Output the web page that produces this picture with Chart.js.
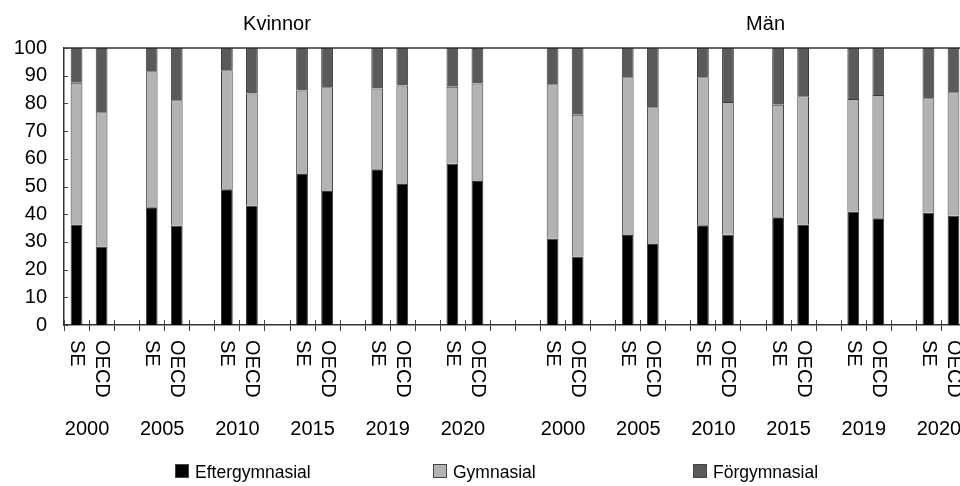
<!DOCTYPE html>
<html><head><meta charset="utf-8">
<script src="https://cdn.jsdelivr.net/npm/chart.js@4/dist/chart.umd.min.js"></script>
<style>
html,body{margin:0;padding:0;background:#fff;overflow:hidden;width:960px;height:486px}
#wrap{position:absolute;left:0;top:0;width:966px;height:486px}
</style></head>
<body><div id="wrap"><canvas id="c"></canvas></div>
<script>
const groups = ["Kvinnor", "Män"];
const years = ["2000", "2005", "2010", "2015", "2019", "2020"];
const regions = ["SE", "OECD"];
const seriesNames = ["Eftergymnasial", "Gymnasial", "Förgymnasial"];
const seriesColors = ["#000000", "#b3b3b3", "#5a5a5a"];
// order: SE2000, OECD2000, SE2005, OECD2005, ... SE2020, OECD2020
const kvinnorEfter = [36.3, 28.3, 42.5, 35.9, 49.0, 43.1, 54.5, 48.4, 56.2, 50.9, 58.2, 52.0];
const kvinnorGym   = [51.2, 48.5, 49.1, 45.2, 43.0, 40.5, 30.2, 37.4, 29.2, 35.6, 27.8, 35.2];
const kvinnorForg  = [12.5, 23.2, 8.4, 18.9, 8.0, 16.4, 15.3, 14.2, 14.6, 13.5, 14.0, 12.8];
const manEfter = [31.2, 24.7, 32.5, 29.2, 36.0, 32.6, 38.9, 36.3, 41.0, 38.5, 40.5, 39.4];
const manGym   = [55.7, 51.2, 56.9, 49.4, 53.4, 47.9, 40.6, 46.3, 40.6, 44.5, 41.4, 44.6];
const manForg  = [13.1, 24.1, 10.6, 21.4, 10.6, 19.5, 20.5, 17.4, 18.4, 17.0, 18.1, 16.0];
const yTicks = [0, 10, 20, 30, 40, 50, 60, 70, 80, 90, 100];

const groupSeries = [[kvinnorEfter, kvinnorGym, kvinnorForg], [manEfter, manGym, manForg]];

// build category slots
const labels = [];
const slotInfo = [];
const seriesData = [[], [], []];
groups.forEach((g, gi) => {
  years.forEach((y, yi) => {
    regions.forEach((r, ri) => {
      labels.push(r);
      slotInfo.push({ g: gi, y: yi, r: ri });
      for (let s = 0; s < 3; s++) seriesData[s].push(groupSeries[gi][s][yi * 2 + ri]);
    });
    const lastOfAll = gi === groups.length - 1 && yi === years.length - 1;
    if (!lastOfAll) {
      labels.push("");
      slotInfo.push(null);
      for (let s = 0; s < 3; s++) seriesData[s].push(null);
    }
  });
  if (gi < groups.length - 1) {
    labels.push("");
    slotInfo.push(null);
    for (let s = 0; s < 3; s++) seriesData[s].push(null);
  }
});

const FONT = "'Liberation Sans', Arial, sans-serif";

const decor = {
  id: 'decor',
  afterDraw(chart) {
    const ctx = chart.ctx;
    const a = chart.chartArea;
    const xs = chart.scales.x, ys = chart.scales.y;
    const step = xs.getPixelForValue(1) - xs.getPixelForValue(0);
    ctx.save();
    // top frame
    ctx.strokeStyle = '#333';
    ctx.lineWidth = 1.5;
    ctx.beginPath();
    ctx.moveTo(a.left, a.top); ctx.lineTo(a.right, a.top);
    ctx.moveTo(a.right, a.top); ctx.lineTo(a.right, a.bottom);
    ctx.stroke();
    // y inner ticks
    ctx.lineWidth = 1;
    ctx.strokeStyle = '#444';
    ctx.beginPath();
    yTicks.forEach(v => {
      const py = Math.round(ys.getPixelForValue(v)) + 0.5;
      ctx.moveTo(a.left, py); ctx.lineTo(a.left + 4, py);
    });
    // x ticks at slot boundaries
    for (let i = 0; i <= labels.length; i++) {
      const px = Math.round(xs.getPixelForValue(i) - step / 2) + 0.5;
      ctx.moveTo(px, a.bottom - 5); ctx.lineTo(px, a.bottom + 6);
    }
    ctx.stroke();
    // rotated region labels
    ctx.fillStyle = '#000';
    ctx.font = '20px ' + FONT;
    ctx.textAlign = 'left';
    ctx.textBaseline = 'middle';
    labels.forEach((lab, i) => {
      if (!lab) return;
      const px = xs.getPixelForValue(i);
      ctx.save();
      ctx.translate(px, a.bottom + 15);
      ctx.rotate(Math.PI / 2);
      ctx.fillText(lab, 0, 0);
      ctx.restore();
    });
    // year labels
    ctx.font = '20px ' + FONT;
    ctx.textAlign = 'center';
    ctx.textBaseline = 'alphabetic';
    slotInfo.forEach((info, i) => {
      if (!info || info.r !== 0) return;
      const px = (xs.getPixelForValue(i) + xs.getPixelForValue(i + 1)) / 2 - 2;
      ctx.fillText(years[info.y], px, a.bottom + 110);
    });
    // group titles
    ctx.font = '20px ' + FONT;
    const firstIdx = slotInfo.findIndex(s => s && s.g === 0);
    const menIdx = slotInfo.findIndex(s => s && s.g === 1);
    ctx.fillText(groups[0], xs.getPixelForValue(firstIdx + 8), 30);
    ctx.fillText(groups[1], xs.getPixelForValue(menIdx + 9) - step / 2, 30);
    // legend
    ctx.textAlign = 'left';
    ctx.font = '17.5px ' + FONT;
    const legX = [175, 433, 693];
    seriesNames.forEach((n, s) => {
      ctx.fillStyle = seriesColors[s];
      ctx.fillRect(legX[s], 464, 14, 14);
      ctx.strokeStyle = '#444';
      ctx.lineWidth = 1;
      ctx.strokeRect(legX[s] + 0.5, 464.5, 13, 13);
      ctx.fillStyle = '#000';
      ctx.fillText(n, legX[s] + 20, 478);
    });
    ctx.restore();
  }
};

new Chart(document.getElementById('c'), {
  type: 'bar',
  data: {
    labels: labels,
    datasets: seriesNames.map((n, s) => ({
      label: n,
      data: seriesData[s],
      backgroundColor: seriesColors[s],
      borderColor: '#3a3a3a',
      borderWidth: 1,
      barPercentage: 0.47,
      categoryPercentage: 1.0
    }))
  },
  options: {
    responsive: true,
    maintainAspectRatio: false,
    animation: false,
    layout: { padding: { top: 48, left: 0, right: 0, bottom: 0 } },
    plugins: { legend: { display: false }, tooltip: { enabled: false } },
    scales: {
      x: {
        stacked: true,
        grid: { display: false, drawTicks: false },
        border: { display: true, color: '#333', width: 1.5 },
        ticks: { display: false },
        afterFit: s => { s.height = 161; }
      },
      y: {
        stacked: true,
        min: 0, max: 100,
        afterBuildTicks: s => { s.ticks = yTicks.map(v => ({ value: v })); },
        grid: { display: false, drawTicks: false },
        border: { display: true, color: '#333', width: 1.5 },
        ticks: { color: '#000', font: { size: 20, family: FONT }, padding: 17 },
        afterFit: s => { s.width = 64; }
      }
    }
  },
  plugins: [decor]
});
</script>
</body></html>
